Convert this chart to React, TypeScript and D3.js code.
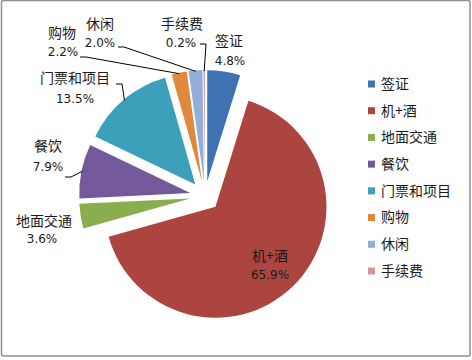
import React from 'react'
import * as d3 from 'd3'

// pie data (Excel style, starts at 12 o'clock, clockwise)
const categories = ['签证', '机+酒', '地面交通', '餐饮', '门票和项目', '购物', '休闲', '手续费']
const values = [4.8, 65.9, 3.6, 7.9, 13.5, 2.2, 2.0, 0.2]
const pctLabels = ['4.8%', '65.9%', '3.6%', '7.9%', '13.5%', '2.2%', '2.0%', '0.2%']
const colors = ['#3F72B2', '#AC4540', '#8AAE4E', '#73589B', '#3DA0BA', '#E0883C', '#93AED8', '#D69594']

// label placement: name centre, pct centre, leader start (null = no leader)
const labelLayout = [
  { nx: 229, ny: 41, px: 230, py: 61, lead: null },
  { nx: 270, ny: 256, px: 270, py: 275, lead: null },
  { nx: 44, ny: 221, px: 42, py: 239, lead: null },
  { nx: 48, ny: 146, px: 48, py: 167, lead: [65, 177] },
  { nx: 75, ny: 78, px: 75, py: 99, lead: [116, 84] },
  { nx: 62, ny: 33, px: 63, py: 52, lead: [80, 57] },
  { nx: 100, ny: 24, px: 100, py: 43, lead: [118, 47] },
  { nx: 182, ny: 24, px: 181, py: 43, lead: [200, 44] },
]

const W = 472
const H = 360
const cx = 205
const cy = 196
const radius = 111
const explode = 15
const nameFont = '"Noto Sans CJK SC", "DejaVu Sans", sans-serif'
const numFont = '"DejaVu Sans", sans-serif'

export default function App() {
  const pie = d3.pie<number>().sort(null).value((d) => d)
  const arcs = pie(values)
  const arc = d3.arc<d3.PieArcDatum<number>>().innerRadius(0).outerRadius(radius)

  const legendY = d3.scaleLinear().domain([0, categories.length - 1]).range([84, 271])

  return (
    <svg width={W} height={H} style={{ position: 'absolute', left: 0, top: 0, background: '#fff' }}>
      <rect x={1.5} y={0.5} width={468.5} height={355.5} rx={2} fill="#fff" stroke="#8f8f8f" strokeWidth={1.5} />
      <g transform={`translate(${cx},${cy})`}>
        {arcs.map((a, i) => {
          const mid = (a.startAngle + a.endAngle) / 2
          const dx = Math.sin(mid) * explode
          const dy = -Math.cos(mid) * explode
          return (
            <path key={i} d={arc(a) || ''} transform={`translate(${dx},${dy})`} fill={colors[i]} />
          )
        })}
      </g>
      {arcs.map((a, i) => {
        const lay = labelLayout[i]
        if (!lay.lead) return null
        const mid = (a.startAngle + a.endAngle) / 2
        const rr = radius + explode - 1
        const ex = cx + Math.sin(mid) * rr
        const ey = cy - Math.cos(mid) * rr
        const [lx, ly] = lay.lead
        return (
          <path key={'l' + i} d={`M${lx},${ly}H${lx + 6}L${ex},${ey}`} fill="none" stroke="#000" strokeWidth={1} />
        )
      })}
      {categories.map((c, i) => {
        const lay = labelLayout[i]
        return (
          <g key={'t' + i} fill="#1a1a1a" textAnchor="middle">
            <text x={lay.nx} y={lay.ny} dy="0.35em" fontSize={14} fontFamily={nameFont}>{c}</text>
            <text x={lay.px} y={lay.py} dy="0.35em" fontSize={12} fontFamily={numFont}>{pctLabels[i]}</text>
          </g>
        )
      })}
      {categories.map((c, i) => (
        <g key={'g' + i} transform={`translate(368,${legendY(i)})`}>
          <rect x={0} y={-3.5} width={7} height={7} fill={colors[i]} />
          <text x={13} y={0} dy="0.35em" fontSize={14} fontFamily={nameFont} fill="#1a1a1a">{c}</text>
        </g>
      ))}
    </svg>
  )
}
